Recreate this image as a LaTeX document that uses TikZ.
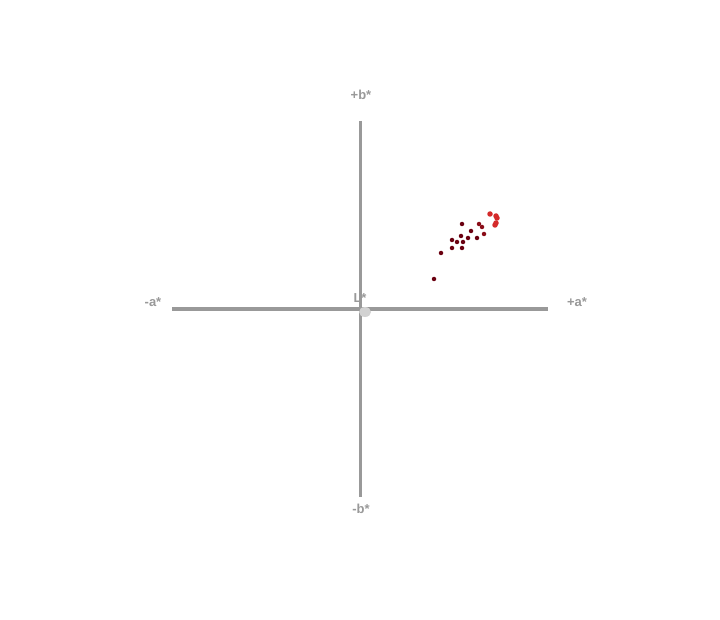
\documentclass[tikz,border=0pt]{standalone}
\usepackage{fontspec}
\setmainfont{Liberation Sans}
\definecolor{axisgray}{HTML}{999999}
\definecolor{darkdot}{HTML}{6A0010}
\definecolor{reddot}{HTML}{D42A2A}
\tikzset{
  axisline/.style={line width=3pt, draw=axisgray},
  axislabel/.style={text=axisgray, font=\bfseries\fontsize{13}{15}\selectfont},
  sample/.style={circle, inner sep=0pt, minimum size=4.5pt}
}
\begin{document}
\begin{tikzpicture}[x=1pt, y=-1pt]
  \useasboundingbox[fill=white] (0,0) rectangle (720,620);

  \coordinate (aneg) at (172,309);
  \coordinate (apos) at (548,309);
  \coordinate (bpos) at (360,121);
  \coordinate (bneg) at (360,497);

  \draw [axisline] (aneg) -- (apos); % a* axis
  \draw [axisline] (bpos) -- (bneg); % b* axis

  \node [axislabel] (lbpos) at (361,95) {+b*};
  \node [axislabel] (lbneg) at (361,509) {-b*};
  \node [axislabel] (laneg) at (153,302) {-a*};
  \node [axislabel] (lapos) at (577,302) {+a*};

  \fill [gray!35] (365,312) ellipse (6 and 5);
  \node [axislabel] (lstar) at (360,298) {L*};

  \foreach \x/\y in {462/224, 471/231, 461/236, 468/238, 477/238, 452/240,
                     457/242, 463/242, 452/248, 462/248, 441/253, 434/279}
    \node [sample, fill=darkdot] at (\x,\y) {};
  \foreach \x/\y in {479/224, 482/227, 484/234}
    \node [sample, fill=darkdot!70!reddot] at (\x,\y) {};
  \foreach \x/\y in {490/214, 496/216, 497/218, 496/223, 495/225}
    \node [sample, minimum size=5.5pt, fill=reddot] at (\x,\y) {};
\end{tikzpicture}
\end{document}
